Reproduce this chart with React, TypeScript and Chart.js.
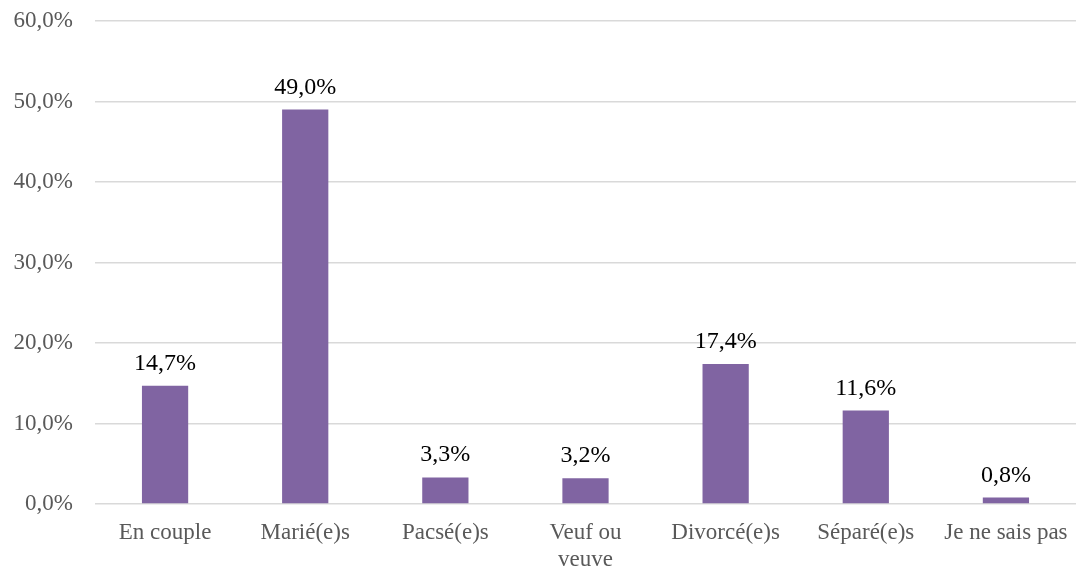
import React, { useEffect, useRef } from "react";
import { Chart, registerables } from "chart.js";

Chart.register(...registerables);

const categories: (string | string[])[] = [
  "En couple",
  "Marié(e)s",
  "Pacsé(e)s",
  ["Veuf ou", "veuve"],
  "Divorcé(e)s",
  "Séparé(e)s",
  "Je ne sais pas",
];
const values: number[] = [14.7, 49.0, 3.3, 3.2, 17.4, 11.6, 0.8];
const yTicks: number[] = [0, 10, 20, 30, 40, 50, 60];

const fmt = (v: number) => v.toFixed(1).replace(".", ",") + "%";
const FONT = "'Liberation Serif', 'Times New Roman', serif";

const dataLabels = {
  id: "dataLabels",
  afterDatasetsDraw(chart: any) {
    const ctx = chart.ctx;
    const meta = chart.getDatasetMeta(0);
    ctx.save();
    ctx.font = `24px ${FONT}`;
    ctx.fillStyle = "#000000";
    ctx.textAlign = "center";
    ctx.textBaseline = "alphabetic";
    meta.data.forEach((bar: any, i: number) => {
      ctx.fillText(fmt(values[i]), bar.x, bar.y - 16);
    });
    ctx.restore();
  },
};

export default function App() {
  const ref = useRef<HTMLCanvasElement>(null);
  useEffect(() => {
    document.body.style.margin = "0";
    const chart = new Chart(ref.current!, {
      type: "bar",
      data: {
        labels: categories,
        datasets: [
          {
            data: values,
            backgroundColor: "#8064A2",
            barPercentage: 0.66,
            categoryPercentage: 0.5,
          },
        ],
      },
      options: {
        animation: false,
        responsive: true,
        maintainAspectRatio: false,
        layout: { padding: { top: 21, right: 2, left: 0, bottom: 0 } },
        plugins: { legend: { display: false }, tooltip: { enabled: false } },
        scales: {
          x: {
            grid: { display: false, drawTicks: false },
            border: { display: false },
            ticks: {
              color: "#595959",
              font: { family: FONT, size: 23 },
              padding: 15,
              maxRotation: 0,
              autoSkip: false,
            },
            afterFit: (s: any) => {
              s.height = 67;
              s.paddingLeft = 0;
              s.paddingRight = 0;
            },
          },
          y: {
            min: 0,
            max: 60,
            afterBuildTicks: (s: any) => {
              s.ticks = yTicks.map((v) => ({ value: v }));
            },
            grid: { color: "#d9d9d9", lineWidth: 1.5, drawTicks: false },
            border: { display: false },
            ticks: {
              color: "#595959",
              font: { family: FONT, size: 23 },
              padding: 22,
              callback: (v: any) => fmt(Number(v)),
            },
            afterFit: (s: any) => {
              s.width = 95;
              s.paddingTop = 0;
              s.paddingBottom = 0;
            },
          },
        },
      },
      plugins: [dataLabels],
    });
    return () => chart.destroy();
  }, []);
  return (
    <div style={{ width: 1078, height: 571, position: "relative" }}>
      <canvas ref={ref} />
    </div>
  );
}
